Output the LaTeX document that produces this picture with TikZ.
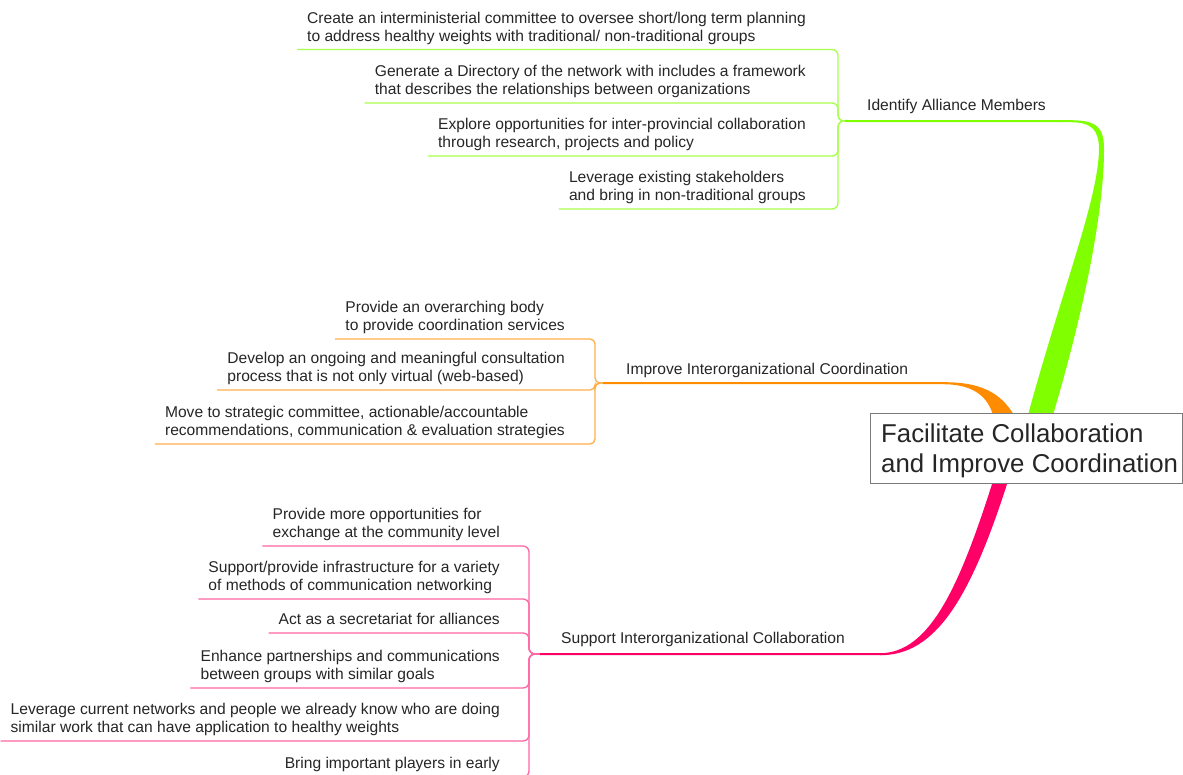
\documentclass[tikz,border=0pt]{standalone}
\usepackage{fontspec}
\setmainfont{Liberation Sans}
\usetikzlibrary{calc}

\definecolor{limeB}{HTML}{80FF00}
\definecolor{orangeB}{HTML}{FF8C00}
\definecolor{pinkB}{HTML}{FF0066}
\definecolor{ink}{HTML}{262626}
\definecolor{frame}{HTML}{7A7A7A}

\tikzset{
  idea/.style={font=\fontsize{15.6}{17.7}\selectfont, text=ink, align=left,
               inner xsep=10pt, inner ysep=2.8pt, anchor=south east},
  topic/.style={font=\fontsize{15.6}{17.7}\selectfont, text=ink,
                inner sep=0pt, anchor=base west},
  rootbox/.style={draw=frame, fill=white, line width=0.9pt},
  roottext/.style={font=\fontsize{25.8}{30}\selectfont, text=ink, align=left,
                   inner sep=0pt, anchor=base west},
  glink/.style={draw=limeB!70!white, line width=1.3pt, rounded corners=6pt},
  olink/.style={draw=orangeB!70!white, line width=1.3pt, rounded corners=5pt},
  plink/.style={draw=pinkB!60!white, line width=1.3pt, rounded corners=6pt},
}

\begin{document}
\begin{tikzpicture}[x=1pt,y=-1pt]
\clip (0,0) rectangle (1183,775);
\fill[white] (0,0) rectangle (1183,775);

% junctions of the three branches
\coordinate (jG) at (845,121);
\coordinate (jO) at (603,383);
\coordinate (jP) at (540,654);
% where the thin branch lines meet the tapered strokes
\coordinate (gEnd) at (1062,121.2);
\coordinate (oEnd) at (946,383.2);
\coordinate (pEnd) at (882,654.2);

% ---- green branch: Identify Alliance Members
\node[idea] (g1) at (816,49.5) {Create an interministerial committee to oversee short/long term planning\\to address healthy weights with traditional/ non-traditional groups\strut};
\node[idea] (g2) at (816,103) {Generate a Directory of the network with includes a framework\\that describes the relationships between organizations\strut};
\node[idea] (g3) at (816,156) {Explore opportunities for inter-provincial collaboration\\through research, projects and policy\strut};
\node[idea] (g4) at (816,209) {Leverage existing stakeholders\\and bring in non-traditional groups\strut};
\foreach \n in {g1,g2,g3,g4}
  \draw[glink] (\n.south west) -- (\n.south east) -| ($(jG)+(-7,0)$) -- (jG);

% ---- orange branch: Improve Interorganizational Coordination
\node[idea] (o1) at (575,339) {Provide an overarching body\\to provide coordination services\strut};
\node[idea] (o2) at (575,390) {Develop an ongoing and meaningful consultation\\process that is not only virtual (web-based)\strut};
\node[idea] (o3) at (575,444) {Move to strategic committee, actionable/accountable\\recommendations, communication \& evaluation strategies\strut};
\foreach \n in {o1,o2,o3}
  \draw[olink] (\n.south west) -- (\n.south east) -| ($(jO)+(-8,0)$) -- (jO);

% ---- pink branch: Support Interorganizational Collaboration
\node[idea] (p1) at (510,546) {Provide more opportunities for\\exchange at the community level\strut};
\node[idea] (p2) at (510,599) {Support/provide infrastructure for a variety\\of methods of communication networking\strut};
\node[idea] (p3) at (510,633) {Act as a secretariat for alliances\strut};
\node[idea] (p4) at (510,688) {Enhance partnerships and communications\\between groups with similar goals\strut};
\node[idea] (p5) at (510,741) {Leverage current networks and people we already know who are doing\\similar work that can have application to healthy weights\strut};
\node[idea] (p6) at (510,777) {Bring important players in early\strut};
\foreach \n in {p1,p2,p3,p4,p5,p6}
  \draw[plink] (\n.south west) -- (\n.south east) -| ($(jP)+(-11,0)$) -- (jP);

% ---- main branch lines
\draw[limeB, line width=2pt] (jG) -- (gEnd);
\draw[orangeB, line width=2pt] (jO) -- (oEnd);
\draw[pinkB, line width=2pt] (jP) -- (pEnd);

% ---- tapered strokes joining the central topic
\fill[limeB] (1028,415) .. controls (1062,290) and (1098,200) .. (1099,150)
  .. controls (1099,130) and (1092,122.2) .. (1070,122.2) -- (1060,122.2)
  -- (1060,120.2) -- (1070,120.2)
  .. controls (1098,120.2) and (1104,128) .. (1104,150)
  .. controls (1104,200) and (1090,290) .. (1053,415) -- cycle;
\fill[orangeB] (944,384.2) .. controls (975,384.5) and (988,398) .. (993,415)
  -- (1014,415) .. controls (1000,392) and (980,382.2) .. (944,382.2) -- cycle;
\fill[pinkB] (880,655.2) .. controls (935,655.5) and (970,600) .. (1008,481)
  -- (993,481) .. controls (960,585) and (930,653.2) .. (880,653.2) -- cycle;

% ---- central topic
\draw[rootbox] (870,413) rectangle (1182,483);
\node[roottext] (root) at (881,472) {Facilitate Collaboration\\and Improve Coordination};

% ---- branch titles
\node[topic] (tG) at (867,111) {Identify Alliance Members};
\node[topic] (tO) at (626,374) {Improve Interorganizational Coordination};
\node[topic] (tP) at (561,643) {Support Interorganizational Collaboration};
\end{tikzpicture}
\end{document}
